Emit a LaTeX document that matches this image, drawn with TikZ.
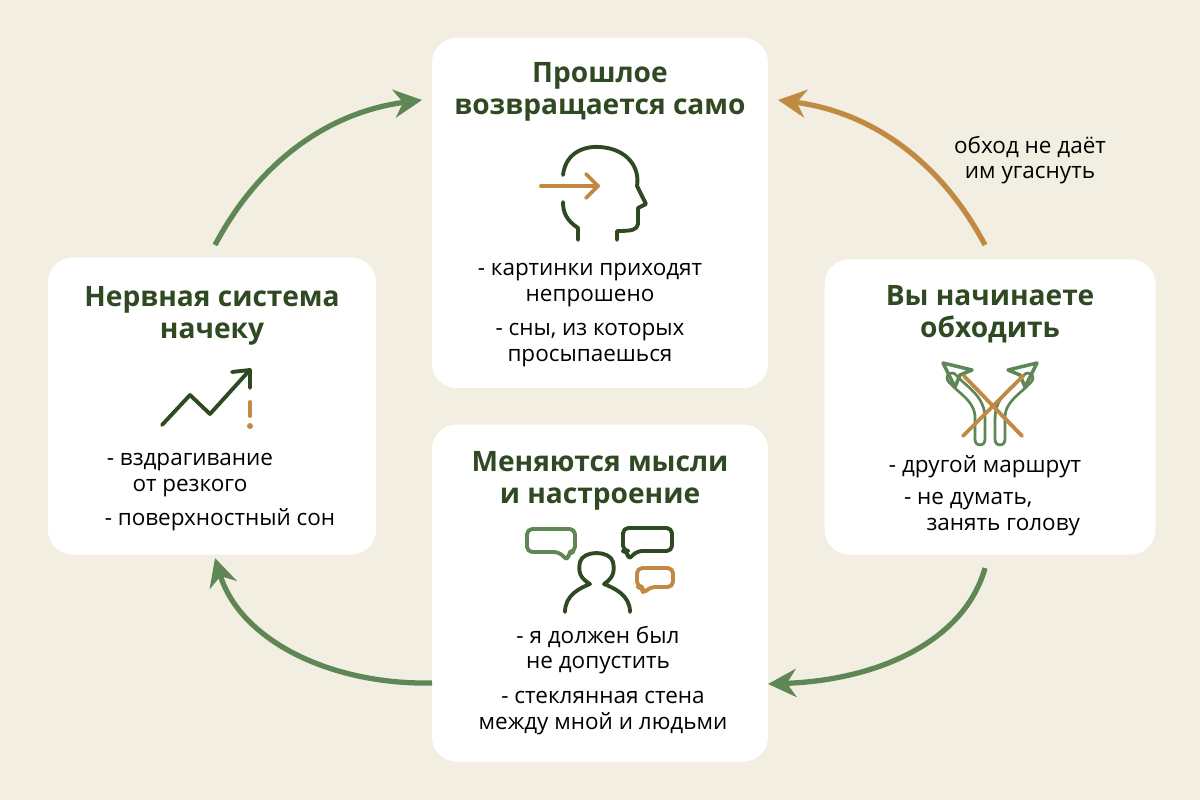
\documentclass[tikz,border=0pt]{standalone}
\usepackage{fontspec}
\setmainfont{Open Sans}
\usetikzlibrary{arrows.meta}
\definecolor{bgcream}{HTML}{F3EEE2}
\definecolor{darkgreen}{HTML}{2F4A22}
\definecolor{leafgreen}{HTML}{5E8755}
\definecolor{ochre}{HTML}{C08A42}
\tikzset{card/.style={draw=none,fill=white,rounded corners=14pt,inner sep=0pt}}
\tikzset{title/.style={font=\bfseries\fontsize{16}{18}\selectfont,text=darkgreen,align=center}}
\tikzset{body/.style={font=\fontsize{12.8}{14.5}\selectfont,align=center}}
\tikzset{loop/.style={draw=leafgreen,line width=3pt,-{Stealth[length=16pt,width=16pt]}}}
\tikzset{icon/.style={line width=2.2pt,line cap=round,line join=round}}
\begin{document}
\begin{tikzpicture}
      [
      x=0.02cm,y=-0.02cm,
      ]
      \fill [bgcream] (0,0) rectangle (1200,800);
      \useasboundingbox (0,0) rectangle (1200,800);

      % cards
      \node [card,minimum width=336*0.02cm,minimum height=350*0.02cm] (past) at (600,213) {};
      \node [card,minimum width=328*0.02cm,minimum height=297*0.02cm] (nerve) at (212,406) {};
      \node [card,minimum width=331*0.02cm,minimum height=295*0.02cm] (avoid) at (990,407) {};
      \node [card,minimum width=336*0.02cm,minimum height=337*0.02cm] (mood) at (600,593) {};

      % titles
      \node [title] (pastT) at (600,92) {Прошлое\\возвращается само};
      \node [title] (nerveT) at (212,316) {Нервная система\\начеку};
      \node [title] (avoidT) at (990,314) {Вы начинаете\\обходить};
      \node [title] (moodT) at (600,481) {Меняются мысли\\и настроение};

      % texts
      \node [body] (pastB1) at (590,285) {- картинки приходят\\непрошено};
      \node [body] (pastB2) at (590,345) {- сны, из которых\\просыпаешься};
      \node [body] (nerveB1) at (190,475) {- вздрагивание\\от резкого};
      \node [body] (nerveB2) at (220,520) {- поверхностный сон};
      \node [body] (avoidB1) at (985,467) {- другой маршрут};
      \node [body,align=left] (avoidB2) at (992,514) {- не думать,\\\hspace*{1em}занять голову};
      \node [body] (moodB1) at (598,650) {- я должен был\\не допустить};
      \node [body] (moodB2) at (603,713) {- стеклянная стена\\между мной и людьми};
      \node [body] (hint) at (1030,160) {обход не даёт\\им угаснуть};

      % cycle
      \coordinate (nerveTop) at (215,245);
      \coordinate (pastL) at (422,100);
      \coordinate (avoidTop) at (985,245);
      \coordinate (pastR) at (778,100);
      \coordinate (avoidBot) at (985,568);
      \coordinate (moodR) at (768,684);
      \coordinate (moodL) at (432,683);
      \coordinate (nerveBot) at (215,558);
      \draw [loop] (nerveTop) .. controls (260,160) and (330,112) .. (pastL);
      \draw [loop,draw=ochre] (avoidTop) .. controls (940,160) and (870,112) .. (pastR);
      \draw [loop] (avoidBot) .. controls (965,640) and (880,680) .. (moodR);
      \draw [loop] (moodL) .. controls (330,685) and (240,640) .. (nerveBot);

      % head icon
      \draw [icon,draw=darkgreen] (578,240) -- (578,228) .. controls (566,220) and (563,212) .. (563,202);
      \draw [icon,draw=darkgreen] (563,175) .. controls (566,150) and (588,146) .. (600,147)
        .. controls (628,149) and (640,168) .. (637,186) -- (646,204) -- (638,208) -- (638,224)
        .. controls (637,230) and (632,231) .. (617,231) -- (617,240);
      \draw [icon,draw=ochre] (541,186) -- (598,186);
      \draw [icon,draw=ochre] (586,174) -- (598,186) -- (586,198);

      % chart icon
      \draw [icon,draw=darkgreen] (162,425) -- (190,395) -- (210,414) -- (248,372);
      \draw [icon,draw=darkgreen] (232,372) -- (250,370) -- (250,388);
      \draw [icon,draw=ochre] (250,402) -- (250,416);
      \fill [ochre] (250,426) circle (3);

      % fork icon
      \draw [icon,draw=leafgreen,double=white,double distance=4pt,line width=1.6pt] (980,440) -- (980,418) .. controls (980,398) and (962,390) .. (952,378);
      \draw [icon,draw=leafgreen,double=white,double distance=4pt,line width=1.6pt] (1000,440) -- (1000,418) .. controls (1000,398) and (1018,390) .. (1028,378);
      \draw [icon,draw=leafgreen,line width=2pt] (943,363) -- (972,370) -- (960,375) -- (955,387) -- cycle;
      \draw [icon,draw=leafgreen,line width=2pt] (1037,363) -- (1008,370) -- (1020,375) -- (1025,387) -- cycle;
      \draw [icon,draw=ochre] (963,436) -- (1023,376);
      \draw [icon,draw=ochre] (964,376) -- (1022,436);

      % chat icon
      \draw [icon,draw=leafgreen,rounded corners=3pt] (527,529) -- (575,529) -- (575,552) -- (568,552) -- (568,561) -- (559,552) -- (527,552) -- cycle;
      \draw [icon,draw=darkgreen,rounded corners=3pt] (623,528) -- (672,528) -- (672,551) -- (637,551) -- (628,560) -- (628,551) -- (623,551) -- cycle;
      \draw [icon,draw=ochre,rounded corners=3pt] (637,568) -- (673,568) -- (673,587) -- (650,587) -- (643,594) -- (643,587) -- (637,587) -- cycle;
      \draw [icon,draw=darkgreen] (565,612) .. controls (565,595) and (580,588) .. (590,584)
        .. controls (580,578) and (578,572) .. (580,562) .. controls (583,550) and (610,550) .. (613,562)
        .. controls (615,572) and (613,578) .. (604,584) .. controls (614,588) and (630,595) .. (630,612);
\end{tikzpicture}
\end{document}
